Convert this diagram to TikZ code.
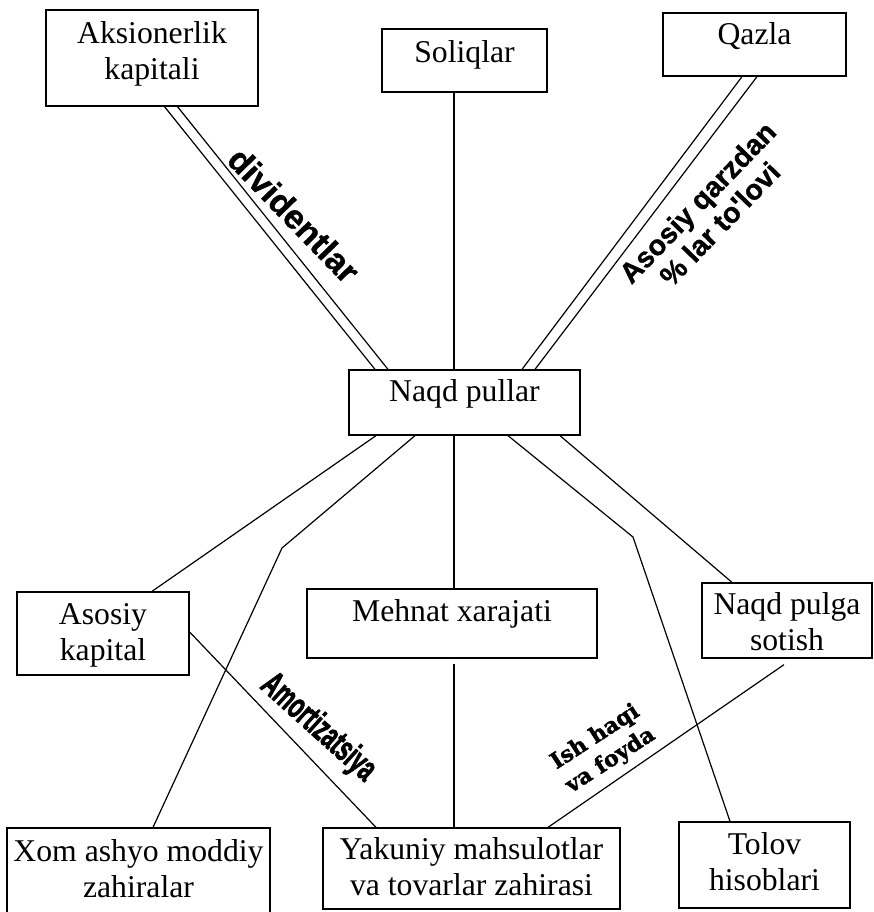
\documentclass[tikz,border=0pt]{standalone}
\usepackage{fontspec}
\usepackage{graphicx}
\setmainfont{Liberation Serif}
\newfontfamily\flowsans[FakeBold=1]{Liberation Sans}
\newfontfamily\heavysans[FakeBold=2.5]{Liberation Sans}
\newfontfamily\slabserif[FakeBold=1.5]{DejaVu Serif}
\begin{document}
\begin{tikzpicture}[x=1pt,y=-1pt,
  box/.style={draw,line width=1.3pt,rectangle,inner sep=0pt},
  btxt/.style={font=\fontsize{31.7}{36}\selectfont,align=center,inner sep=0pt,anchor=north},
  conn/.style={line width=1.2pt},
  flowlab/.style={inner sep=0pt,align=center}]
\useasboundingbox (0,0) rectangle (873,912);

% boxes
\node[box,minimum width=212pt,minimum height=96pt] (aks)  at (152,58)    {};
\node[box,minimum width=165pt,minimum height=63pt] (sol)  at (464.5,60.5) {};
\node[box,minimum width=183pt,minimum height=63pt] (qaz)  at (754.5,44.5) {};
\node[box,minimum width=231pt,minimum height=65pt] (naqd) at (464.5,402.5) {};
\node[box,minimum width=172pt,minimum height=83pt] (asos) at (103,633.5)  {};
\node[box,minimum width=290pt,minimum height=69pt] (mehn) at (452,623.5)  {};
\node[box,minimum width=170pt,minimum height=75pt] (sot)  at (787,620.5)  {};
\node[box,minimum width=263pt,minimum height=86pt] (xom)  at (138.5,871)  {};
\node[box,minimum width=297pt,minimum height=81pt] (yak)  at (471.5,868.5) {};
\node[box,minimum width=171pt,minimum height=86pt] (tol)  at (764.5,865)  {};

% box texts
\node[btxt] (aksT)  at ([yshift=-8.8pt]aks.north)  {\strut Aksionerlik\\kapitali};
\node[btxt] (solT)  at ([yshift=-8.8pt]sol.north)  {\strut Soliqlar};
\node[btxt] (qazT)  at ([yshift=-6.8pt]qaz.north)  {\strut Qazla};
\node[btxt] (naqdT) at ([yshift=-6.8pt]naqd.north) {\strut Naqd pullar};
\node[btxt] (asosT) at ([yshift=-7.8pt]asos.north) {\strut Asosiy\\kapital};
\node[btxt] (mehnT) at ([yshift=-7.8pt]mehn.north) {\strut Mehnat xarajati};
\node[btxt] (sotT)  at ([yshift=-6.8pt]sot.north)  {\strut Naqd pulga\\sotish};
\node[btxt] (xomT)  at ([yshift=-8.8pt]xom.north)  {\strut Xom ashyo moddiy\\zahiralar};
\node[btxt] (yakT)  at ([yshift=-6.8pt]yak.north)  {\strut Yakuniy mahsulotlar\\va tovarlar zahirasi};
\node[btxt] (tolT)  at ([yshift=-7.8pt]tol.north)  {\strut Tolov\\hisoblari};

% bend points
\coordinate (bl) at (282,548);
\coordinate (br) at (633,537);

% connectors
\draw[conn] ([xshift=12.5pt]aks.south) -- ([xshift=-89.5pt]naqd.north);
\draw[conn] ([xshift=25.5pt]aks.south) -- ([xshift=-76.5pt]naqd.north);
\draw[conn] ([xshift=-10.5pt]sol.south) -- ([xshift=-10.5pt]naqd.north);
\draw[conn] ([xshift=-12.5pt]qaz.south) -- ([xshift=57.5pt]naqd.north);
\draw[conn] ([xshift=2.5pt]qaz.south) -- ([xshift=70.5pt]naqd.north);
\draw[conn] ([xshift=-88.5pt]naqd.south) -- ([xshift=49pt]asos.north);
\draw[conn] ([xshift=-49.5pt]naqd.south) -- (bl) -- ([xshift=14.5pt]xom.north);
\draw[conn] ([xshift=-10.5pt]naqd.south) -- ([xshift=2pt]mehn.north);
\draw[conn] ([xshift=43.5pt]naqd.south) -- (br) -- ([xshift=-34.5pt]tol.north);
\draw[conn] ([xshift=95.5pt]naqd.south) -- ([xshift=-55pt]sot.north);
\draw[conn] ([xshift=-3pt,yshift=-6pt]sot.south) -- ([xshift=76.5pt]yak.north);
\draw[conn] ([yshift=1.5pt]asos.east) -- ([xshift=-95.5pt]yak.north);
\draw[conn] ([xshift=2pt,yshift=-5pt]mehn.south) -- ([xshift=-17.5pt]yak.north);

% flow labels
\node[flowlab,rotate=-46,font=\flowsans\bfseries\fontsize{34}{38}\selectfont] (divL) at (294,215) {dividentlar};
\node[flowlab,rotate=46,font=\flowsans\bfseries\fontsize{28.5}{31}\selectfont] (qarzL) at (708.5,213) {Asosiy qarzdan\\\% lar to'lovi};
\node[flowlab,rotate=-42,font=\heavysans\bfseries\fontsize{36}{40}\selectfont] (amorL) at (318,728) {\scalebox{0.6}[1]{Amortizatsiya}};
\node[flowlab,rotate=33,font=\slabserif\bfseries\fontsize{22}{28}\selectfont] (ishL) at (603,749) {Ish haqi\\va foyda};
\end{tikzpicture}
\end{document}
